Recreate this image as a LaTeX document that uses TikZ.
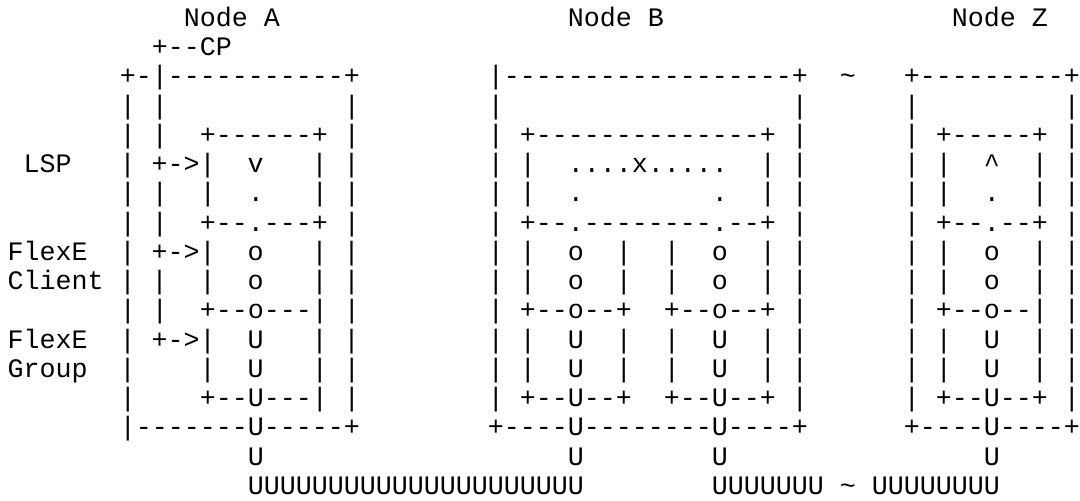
\documentclass[tikz,border=0pt]{standalone}
\usepackage{fontspec}
\setmonofont{Liberation Mono}
% n blank character cells of the monospaced font
\newcommand\sk[1]{\hspace*{#1\fontcharwd\font`M}}
% a character repeated n times
\ExplSyntaxOn
\NewDocumentCommand\rep{mm}{\prg_replicate:nn{#1}{#2}}
\ExplSyntaxOff
\begin{document}
\begin{tikzpicture}[
  asciirow/.style={anchor=base west, inner sep=0pt, outer sep=0pt,
    font=\ttfamily\fontsize{20pt}{22pt}\selectfont, text=black}]
\useasboundingbox (0,0) rectangle (810pt,-375pt);
\begin{scope}[shift={(5.8pt,-19.7pt)}, y=-21.94pt]
\node[asciirow] (titles) at (0,0) {\sk{11}Node\sk{1}A\sk{18}Node\sk{1}B\sk{18}Node\sk{1}Z};
\node[asciirow] (cp) at (0,1) {\sk{9}+--CP};
\node[asciirow] (tops) at (0,2) {\sk{7}+-|\rep{11}{-}+\sk{8}|\rep{18}{-}+\sk{2}\textasciitilde\sk{3}+\rep{9}{-}+};
\node[asciirow] (r4) at (0,3) {\sk{7}|\sk{1}|\sk{11}|\sk{8}|\sk{18}|\sk{6}|\sk{9}|};
\node[asciirow] (r5) at (0,4) {\sk{7}|\sk{1}|\sk{2}+\rep{6}{-}+\sk{1}|\sk{8}|\sk{1}+\rep{14}{-}+\sk{1}|\sk{6}|\sk{1}+\rep{5}{-}+\sk{1}|};
\node[asciirow] (lsp) at (0,5) {\sk{1}LSP\sk{3}|\sk{1}+->|\sk{2}v\sk{3}|\sk{1}|\sk{8}|\sk{1}|\sk{2}....x.....\sk{2}|\sk{1}|\sk{6}|\sk{1}|\sk{2}\textasciicircum\sk{2}|\sk{1}|};
\node[asciirow] (r7) at (0,6) {\sk{7}|\sk{1}|\sk{2}|\sk{2}.\sk{3}|\sk{1}|\sk{8}|\sk{1}|\sk{2}.\sk{8}.\sk{2}|\sk{1}|\sk{6}|\sk{1}|\sk{2}.\sk{2}|\sk{1}|};
\node[asciirow] (r8) at (0,7) {\sk{7}|\sk{1}|\sk{2}+--.---+\sk{1}|\sk{8}|\sk{1}+--.\rep{8}{-}.--+\sk{1}|\sk{6}|\sk{1}+--.--+\sk{1}|};
\node[asciirow] (client1) at (0,8) {FlexE\sk{2}|\sk{1}+->|\sk{2}o\sk{3}|\sk{1}|\sk{8}|\sk{1}|\sk{2}o\sk{2}|\sk{2}|\sk{2}o\sk{2}|\sk{1}|\sk{6}|\sk{1}|\sk{2}o\sk{2}|\sk{1}|};
\node[asciirow] (client2) at (0,9) {Client\sk{1}|\sk{1}|\sk{2}|\sk{2}o\sk{3}|\sk{1}|\sk{8}|\sk{1}|\sk{2}o\sk{2}|\sk{2}|\sk{2}o\sk{2}|\sk{1}|\sk{6}|\sk{1}|\sk{2}o\sk{2}|\sk{1}|};
\node[asciirow] (r11) at (0,10) {\sk{7}|\sk{1}|\sk{2}+--o---|\sk{1}|\sk{8}|\sk{1}+--o--+\sk{2}+--o--+\sk{1}|\sk{6}|\sk{1}+--o--|\sk{1}|};
\node[asciirow] (group1) at (0,11) {FlexE\sk{2}|\sk{1}+->|\sk{2}U\sk{3}|\sk{1}|\sk{8}|\sk{1}|\sk{2}U\sk{2}|\sk{2}|\sk{2}U\sk{2}|\sk{1}|\sk{6}|\sk{1}|\sk{2}U\sk{2}|\sk{1}|};
\node[asciirow] (group2) at (0,12) {Group\sk{2}|\sk{4}|\sk{2}U\sk{3}|\sk{1}|\sk{8}|\sk{1}|\sk{2}U\sk{2}|\sk{2}|\sk{2}U\sk{2}|\sk{1}|\sk{6}|\sk{1}|\sk{2}U\sk{2}|\sk{1}|};
\node[asciirow] (r14) at (0,13) {\sk{7}|\sk{4}+--U---|\sk{1}|\sk{8}|\sk{1}+--U--+\sk{2}+--U--+\sk{1}|\sk{6}|\sk{1}+--U--+\sk{1}|};
\node[asciirow] (bottoms) at (0,14) {\sk{7}|\rep{7}{-}U\rep{5}{-}+\sk{8}+\rep{4}{-}U\rep{8}{-}U\rep{4}{-}+\sk{6}+\rep{4}{-}U\rep{4}{-}+};
\node[asciirow] (r16) at (0,15) {\sk{15}U\sk{19}U\sk{8}U\sk{16}U};
\node[asciirow] (links) at (0,16) {\sk{15}\rep{21}{U}\sk{8}\rep{7}{U}\sk{1}\textasciitilde\sk{1}\rep{8}{U}};
\end{scope}
\end{tikzpicture}
\end{document}
